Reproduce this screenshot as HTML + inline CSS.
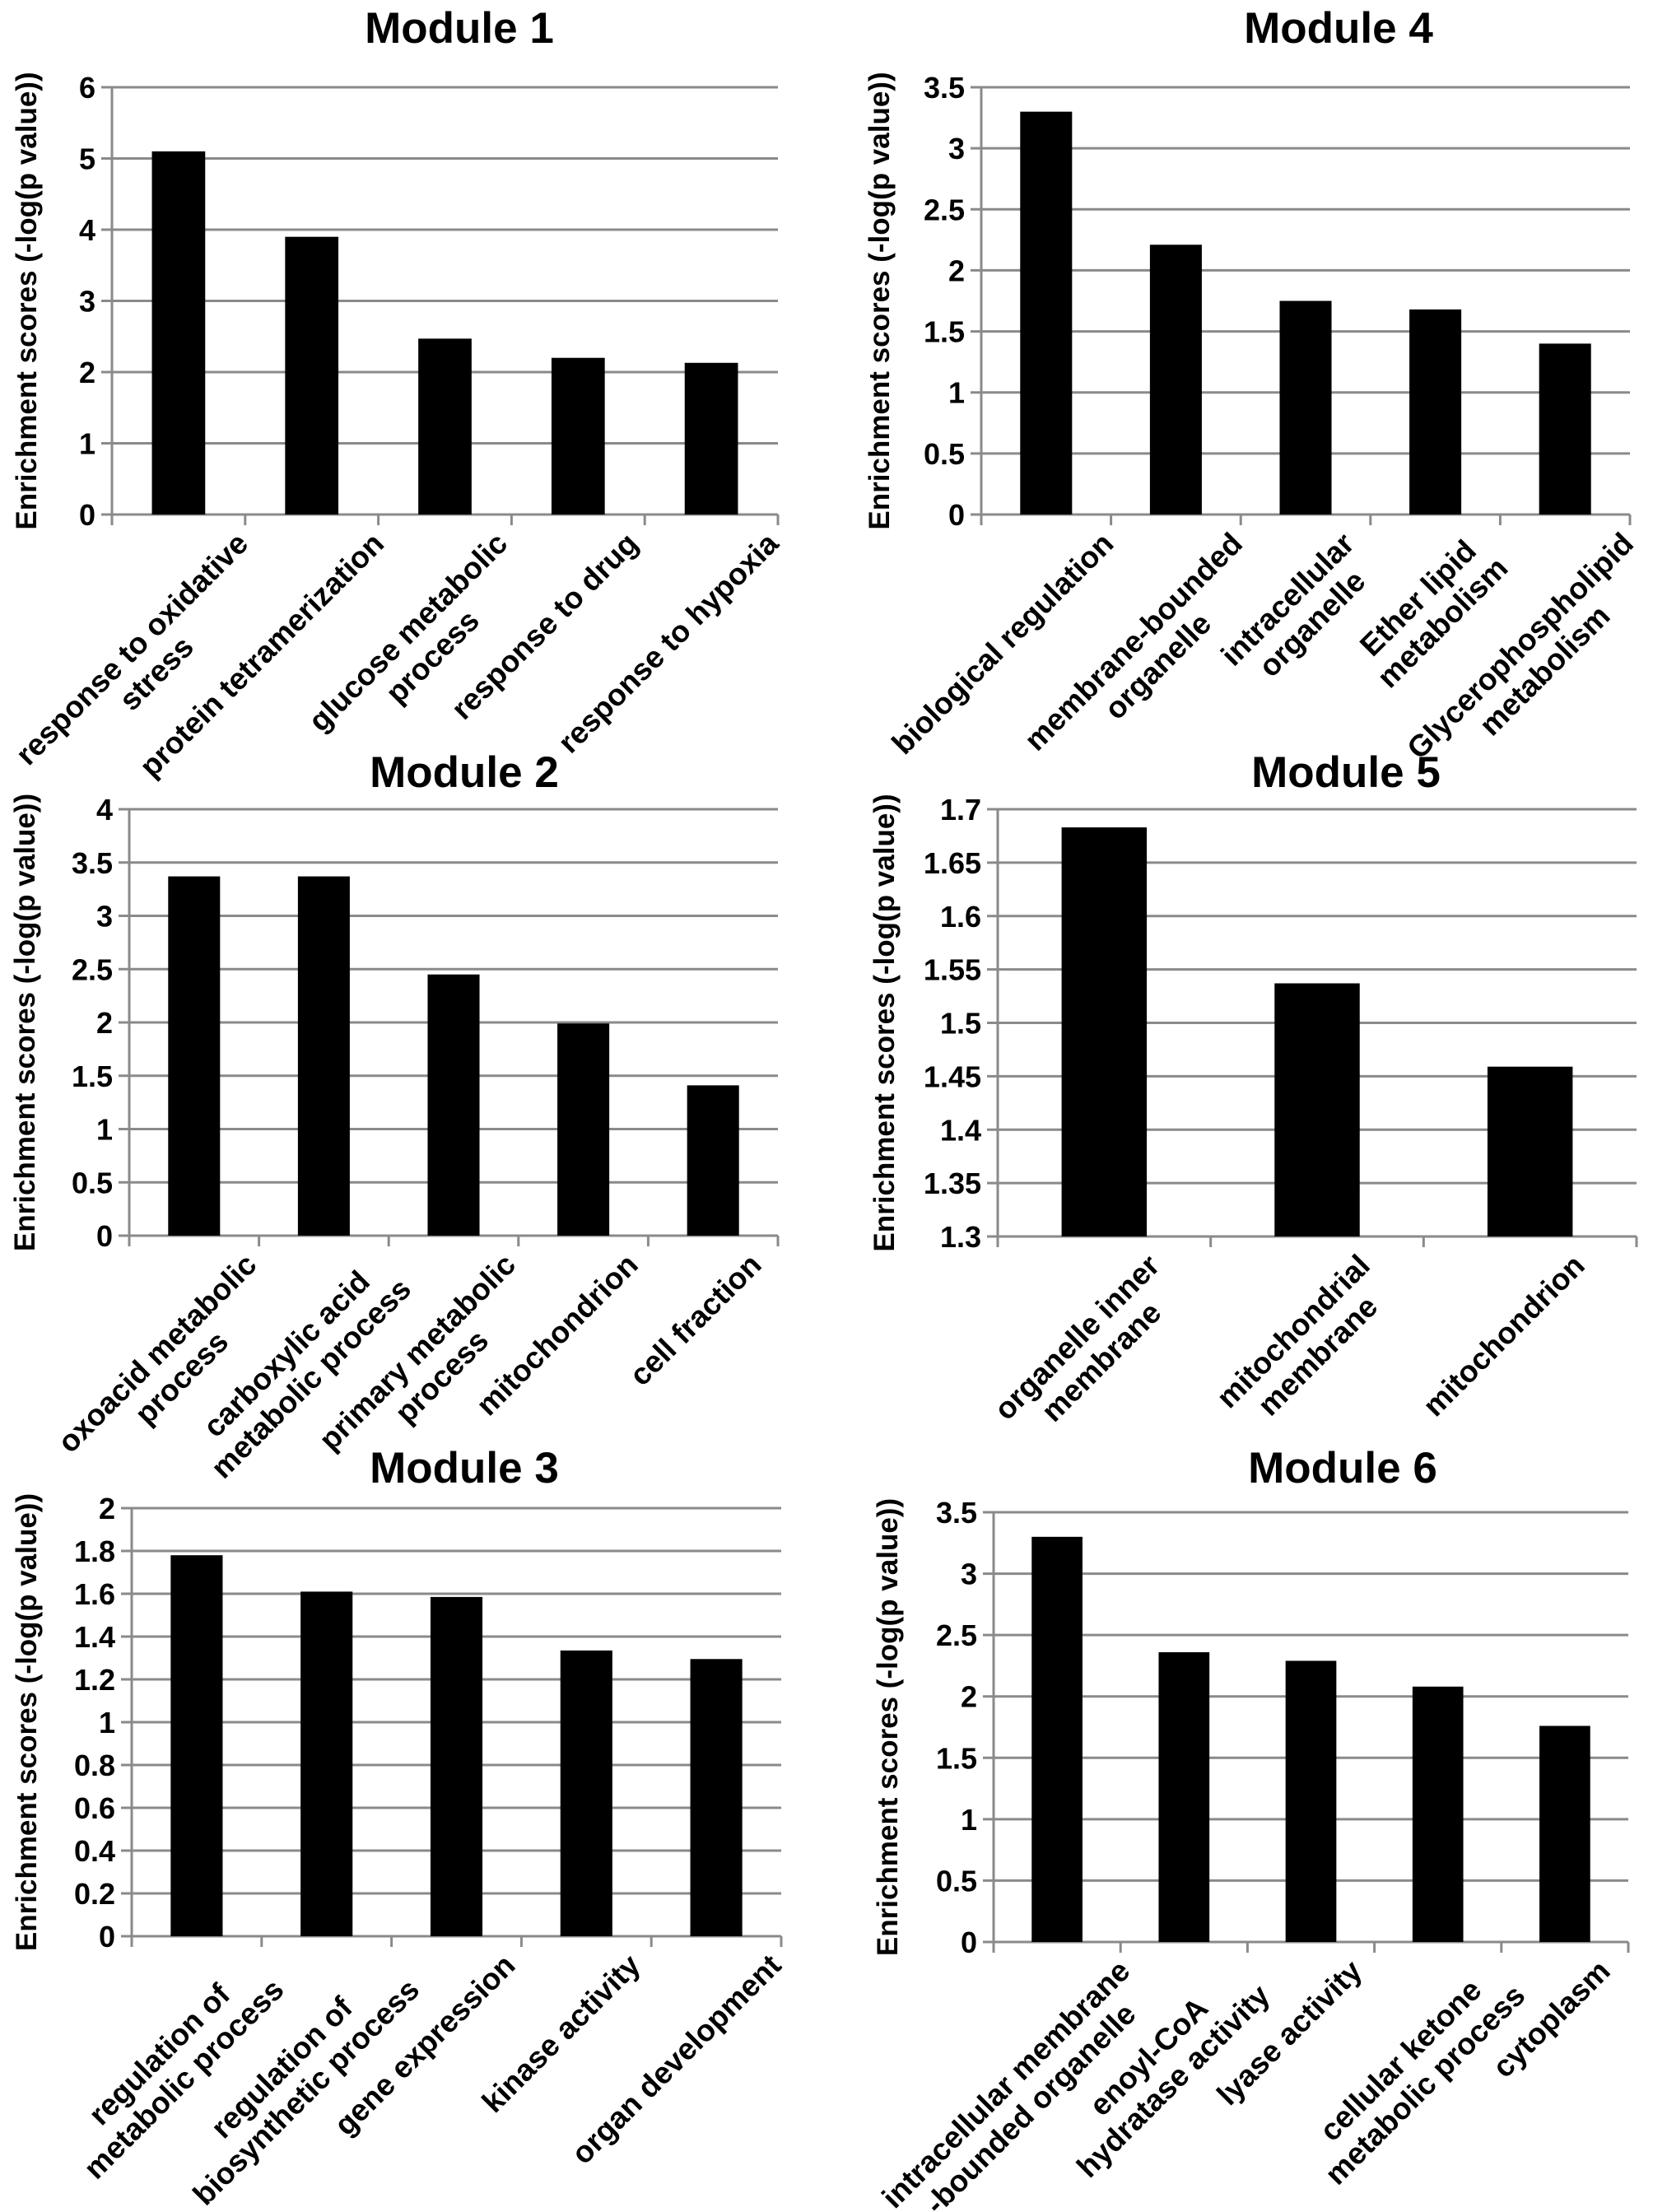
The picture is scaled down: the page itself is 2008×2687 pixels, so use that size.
<!DOCTYPE html>
<html><head><meta charset="utf-8"><style>
html,body{margin:0;padding:0;background:#fff;}
svg{display:block;font-family:"Liberation Sans",Arial,sans-serif;font-weight:bold;}
</style></head><body>
<svg id="fig" width="2008" height="2687" viewBox="0 0 2008 2687" xmlns="http://www.w3.org/2000/svg"></svg>
<script>
// ---- data ----
const m1Categories = [["response to oxidative","stress"],["protein tetramerization"],["glucose metabolic","process"],["response to drug"],["response to hypoxia"]];
const m1Values = [5.1, 3.9, 2.47, 2.2, 2.13];
const m1Ticks = [0,1,2,3,4,5,6];

const m2Categories = [["oxoacid metabolic","process"],["carboxylic acid","metabolic process"],["primary metabolic","process"],["mitochondrion"],["cell fraction"]];
const m2Values = [3.37, 3.37, 2.45, 1.99, 1.41];
const m2Ticks = [0,0.5,1,1.5,2,2.5,3,3.5,4];

const m3Categories = [["regulation of","metabolic process"],["regulation of","biosynthetic process"],["gene expression"],["kinase activity"],["organ development"]];
const m3Values = [1.78, 1.61, 1.585, 1.335, 1.295];
const m3Ticks = [0,0.2,0.4,0.6,0.8,1,1.2,1.4,1.6,1.8,2];

const m4Categories = [["biological regulation"],["membrane-bounded","organelle"],["intracellular","organelle"],["Ether lipid","metabolism"],["Glycerophospholipid","metabolism"]];
const m4Values = [3.3, 2.21, 1.75, 1.68, 1.4];
const m4Ticks = [0,0.5,1,1.5,2,2.5,3,3.5];

const m5Categories = [["organelle inner","membrane"],["mitochondrial","membrane"],["mitochondrion"]];
const m5Values = [1.683, 1.537, 1.459];
const m5Ticks = [1.3,1.35,1.4,1.45,1.5,1.55,1.6,1.65,1.7];

const m6Categories = [["intracellular membrane","-bounded organelle"],["enoyl-CoA","hydratase activity"],["lyase activity"],["cellular ketone","metabolic process"],["cytoplasm"]];
const m6Values = [3.3, 2.36, 2.29, 2.08, 1.76];
const m6Ticks = [0,0.5,1,1.5,2,2.5,3,3.5];

// ---- layout (not data) ----
const NS = "http://www.w3.org/2000/svg";
const svg = document.getElementById('fig');
function mk(tag, attrs, parent){
  const e = document.createElementNS(NS, tag);
  for (const k in attrs) e.setAttribute(k, attrs[k]);
  (parent||svg).appendChild(e);
  return e;
}
function fmt(v){ return String(parseFloat(v.toFixed(2))); }

function drawChart(key, title, cats, vals, ticks, L){
  const g = mk('g', {});
  
  
  const vmin = ticks[0], vmax = ticks[ticks.length-1];
  const y = v => L.y0 - (v - vmin) / (vmax - vmin) * (L.y0 - L.y1);
  const n = cats.length;
  const cw = (L.x1 - L.x0) / n;
  const x = i => L.x0 + cw * (i + 0.5);

  const t = mk('text', {x: L.tx, y: L.ty, 'font-size': 53, 'text-anchor': 'middle', fill: '#000'}, g);
  t.textContent = title;
  
  

  ticks.forEach(v => {
    const yy = y(v);
    const gl = mk('line', {x1: L.x0 - 13, x2: L.x1, y1: yy, y2: yy, stroke: '#8a8a8a', 'stroke-width': 3}, g);
    
    
    const tl = mk('text', {x: L.x0 - 20, y: yy + 13, 'font-size': 36, 'text-anchor': 'end', fill: '#000'}, g);
    tl.textContent = fmt(v);
    
    
  });
  const ya = mk('line', {x1: L.x0, x2: L.x0, y1: L.y1, y2: L.y0 + 13, stroke: '#8a8a8a', 'stroke-width': 3}, g);
  
  
  for (let i = 1; i <= n; i++){
    const xx = L.x0 + cw * i;
    const tk = mk('line', {x1: xx, x2: xx, y1: L.y0, y2: L.y0 + 13, stroke: '#8a8a8a', 'stroke-width': 3}, g);
    
    
  }
  const yc = (L.y0 + L.y1) / 2;
  const at = mk('text', {x: 0, y: 0, 'font-size': 35, 'text-anchor': 'middle', fill: '#000', transform: `translate(${L.ax},${yc}) rotate(-90)`}, g);
  at.textContent = 'Enrichment scores (-log(p value))';
  
  

  vals.forEach((v, i) => {
    const bw = cw * 0.4;
    const r = mk('rect', {x: x(i) - bw/2, y: y(v), width: bw, height: L.y0 - y(v), fill: '#000'}, g);
    
    
  });

  cats.forEach((lines, i) => {
    const fs = 37, lh = 42;
    const lg = mk('g', {}, g);
    
    
    const els = lines.map((s, j) => {
      const te = mk('text', {x: 0, y: fs*0.75 + j*lh, 'font-size': fs, 'text-anchor': 'middle', fill: '#000'}, lg);
      te.textContent = s;
      return te;
    });
    let W = 0;
    els.forEach(e => { W = Math.max(W, e.getComputedTextLength()); });
    els.forEach(e => e.setAttribute('x', -W/2));
    const px = x(i) + 10 + 0.15 * W;
    const py = L.y0 + 18;
    lg.setAttribute('transform', `translate(${px},${py}) rotate(-45)`);
  });
}

drawChart('module-1', 'Module 1', m1Categories, m1Values, m1Ticks, {x0:136, x1:945, y0:625, y1:106, tx:558, ty:52, ax:44});
drawChart('module-4', 'Module 4', m4Categories, m4Values, m4Ticks, {x0:1192, x1:1980, y0:625, y1:106, tx:1626, ty:52, ax:1080});
drawChart('module-2', 'Module 2', m2Categories, m2Values, m2Ticks, {x0:157, x1:945, y0:1501, y1:983, tx:564, ty:956, ax:42});
drawChart('module-5', 'Module 5', m5Categories, m5Values, m5Ticks, {x0:1212, x1:1988, y0:1502, y1:983, tx:1635, ty:956, ax:1086});
drawChart('module-3', 'Module 3', m3Categories, m3Values, m3Ticks, {x0:160, x1:949, y0:2352, y1:1832, tx:564, ty:1801, ax:44});
drawChart('module-6', 'Module 6', m6Categories, m6Values, m6Ticks, {x0:1207, x1:1978, y0:2359, y1:1837, tx:1631, ty:1801, ax:1090});
</script>
</body></html>
